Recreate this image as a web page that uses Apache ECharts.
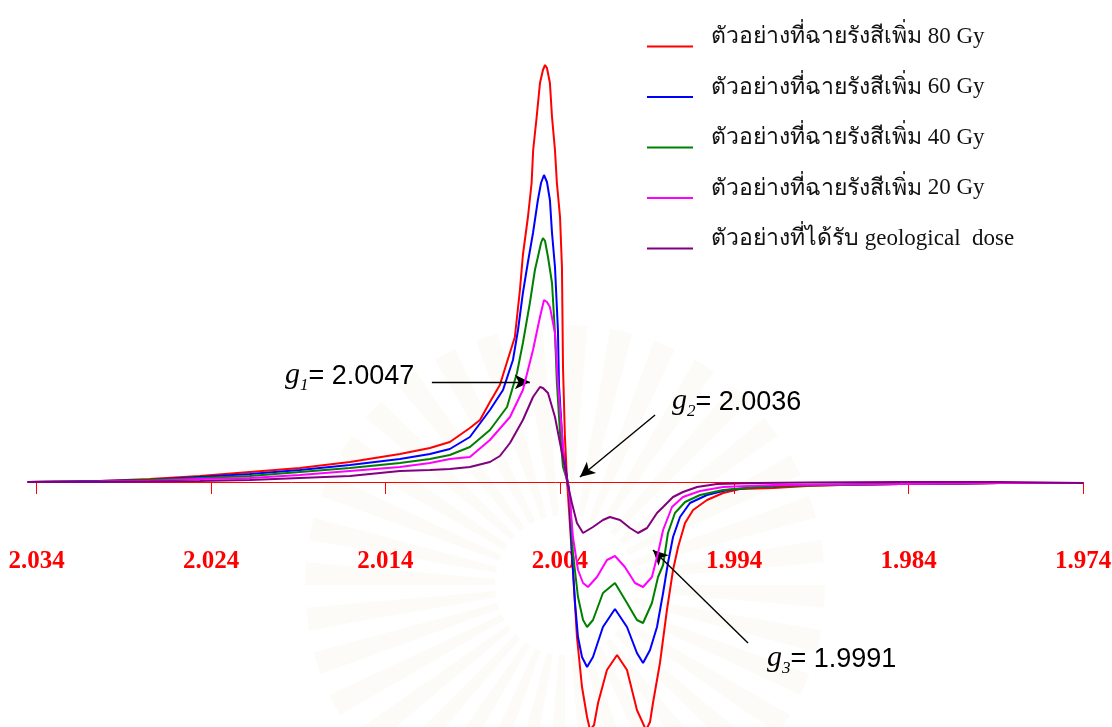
<!DOCTYPE html>
<html>
<head>
<meta charset="utf-8">
<title>EPR spectra</title>
<script src="https://cdn.jsdelivr.net/npm/echarts@6/dist/echarts.min.js"></script>
<style>
  html, body { margin: 0; padding: 0; background: #fff; }
  #chart { width: 1112px; height: 727px; }
</style>
</head>
<body>
<div id="chart"></div>
<script>
// g-value tick labels along the field axis
const gTicks = [2.034, 2.024, 2.014, 2.004, 1.994, 1.984, 1.974];

// Legend text: Thai description + dose
const thaiLabels = [
  'ตัวอย่างที่ฉายรังสีเพิ่ม',
  'ตัวอย่างที่ฉายรังสีเพิ่ม',
  'ตัวอย่างที่ฉายรังสีเพิ่ม',
  'ตัวอย่างที่ฉายรังสีเพิ่ม',
  'ตัวอย่างที่ได้รับ'
];
const doseLabels = ['80 Gy', '60 Gy', '40 Gy', '20 Gy', 'geological  dose'];
const lineColors = ['#ff0000', '#0000ff', '#008000', '#ff00ff', '#800080'];

// First-derivative EPR signal, [g, intensity (a.u.)]
const spec80 = [
  [2.03452,0],[2.03039,0.25],[2.02752,0.75],[2.02465,1.5],[2.02178,2.5],[2.01891,3.5],
  [2.01604,5],[2.01317,7],[2.01145,8.5],[2.01031,10],[2.00916,13.5],[2.00858,15.5],
  [2.00801,20],[2.00744,24.25],[2.00703,30],[2.00658,36.25],[2.00629,48],[2.00612,56.75],
  [2.00583,66.25],[2.00562,74.75],[2.00553,83],[2.00533,91.25],[2.00514,99.75],
  [2.00497,103],[2.00485,104.25],[2.00474,103.5],[2.00457,99.75],[2.00445,91.25],
  [2.00428,83],[2.00417,74.75],[2.00399,66.25],[2.00388,53.75],[2.00382,28.75],
  [2.00371,11.25],[2.00359,0.5],[2.00348,0],[2.00325,-22],[2.00302,-38.75],
  [2.00273,-51.25],[2.00244,-58.75],[2.00227,-62],[2.00204,-60.75],[2.00181,-55.25],
  [2.00130,-47],[2.00072,-43.25],[2.00015,-47],[1.99958,-57],[1.99906,-62],
  [1.99883,-60],[1.99866,-55.25],[1.99826,-45.25],[1.99786,-32],[1.99751,-22],
  [1.99722,-16.25],[1.99682,-10.25],[1.99636,-7],[1.99556,-4.5],[1.99464,-2.75],
  [1.99367,-1.75],[1.99177,-1.5],[1.98982,-1],[1.98793,-0.75],[1.98449,-0.5],
  [1.98162,-0.5],[1.97875,-0.25],[1.97399,-0.25]
];
const spec60 = [
  [2.03452,0],[2.03039,0.25],[2.02752,0.5],[2.02465,1.25],[2.02178,2],[2.01891,3],
  [2.01604,4.25],[2.01317,5.75],[2.01145,7],[2.01031,8.25],[2.00916,11.25],[2.00801,18],
  [2.00726,23],[2.00669,30.5],[2.00640,38],[2.00612,47.25],[2.00583,55],[2.00554,62.25],
  [2.00526,70.5],[2.00508,74.75],[2.00491,76.75],[2.00474,75],[2.00457,70.5],
  [2.00445,62.25],[2.00428,53.75],[2.00411,38],[2.00405,24.25],[2.00382,8],[2.00359,1],
  [2.00348,-1.5],[2.00331,-17.75],[2.00313,-30.25],[2.00296,-38.75],[2.00273,-43.75],
  [2.00244,-46.25],[2.00210,-43.75],[2.00153,-36.25],[2.00084,-31.75],[2.00015,-36.25],
  [1.99958,-42.75],[1.99923,-45.25],[1.99883,-42],[1.99843,-36.25],[1.99808,-27.75],
  [1.99780,-20.25],[1.99751,-13.75],[1.99711,-8.75],[1.99654,-5.25],[1.99556,-3.25],
  [1.99441,-2],[1.99269,-1.25],[1.98982,-0.75],[1.98449,-0.5],[1.97875,-0.25],[1.97399,-0.25]
];
const spec40 = [
  [2.03452,0],[2.03039,0.1],[2.02752,0.5],[2.02465,1],[2.02178,1.5],[2.01891,2.5],
  [2.01604,3.5],[2.01317,4.75],[2.01145,5.75],[2.01031,6.75],[2.00916,8.75],[2.00801,13],
  [2.00703,18.75],[2.00646,27.25],[2.00612,34.75],[2.00572,44.75],[2.00543,53],
  [2.00526,56.25],[2.00508,59.75],[2.00497,61],[2.00485,60.25],[2.00468,56.25],
  [2.00445,49.75],[2.00428,37.25],[2.00417,24.75],[2.00399,12.25],[2.00382,3.75],
  [2.00359,0.5],[2.00342,-4.5],[2.00325,-17.75],[2.00296,-28.75],[2.00267,-34.5],
  [2.00244,-36.25],[2.00210,-34.5],[2.00153,-27.75],[2.00084,-25.25],[2.00015,-30.25],
  [1.99958,-34.5],[1.99923,-35.25],[1.99872,-30.25],[1.99837,-23.75],[1.99808,-20.75],
  [1.99780,-12.75],[1.99740,-7.75],[1.99682,-5],[1.99596,-3.25],[1.99464,-2],
  [1.99177,-1],[1.98793,-0.75],[1.98449,-0.5],[1.97875,-0.25],[1.97399,-0.25]
];
const spec20 = [
  [2.03452,0],[2.03039,0.1],[2.02752,0.25],[2.02465,0.75],[2.02178,1],[2.01891,1.75],
  [2.01604,2.75],[2.01317,3.75],[2.01145,4.75],[2.01031,5.75],[2.00916,6.25],[2.00801,10.5],
  [2.00686,16.25],[2.00612,23],[2.00554,33],[2.00514,41.25],[2.00491,45.5],[2.00474,45],
  [2.00457,43.75],[2.00428,37.25],[2.00411,24.75],[2.00388,12.25],[2.00371,3],
  [2.00354,-0.75],[2.00342,-4.5],[2.00325,-13.75],[2.00296,-22],[2.00267,-25.25],
  [2.00239,-26.25],[2.00187,-23.75],[2.00130,-19.5],[2.00084,-18.5],[2.00027,-21.25],
  [1.99969,-25.25],[1.99923,-26.25],[1.99872,-23.75],[1.99837,-17.75],[1.99808,-12],
  [1.99757,-6.25],[1.99694,-3.75],[1.99596,-2.25],[1.99464,-1.25],[1.99177,-0.75],
  [1.98449,-0.5],[1.97875,-0.25],[1.97399,-0.25]
];
const specGeo = [
  [2.03452,0],[2.03039,0],[2.02752,0.1],[2.02465,0.25],[2.02178,0.5],[2.01891,1],
  [2.01604,1.5],[2.01317,2.75],[2.01145,3],[2.01031,3.25],[2.00916,3.75],[2.00801,5],
  [2.00744,6.5],[2.00686,9.75],[2.00612,15.5],[2.00554,21.25],[2.00514,23.75],
  [2.00497,23.5],[2.00468,22.25],[2.00428,16.25],[2.00399,9.75],[2.00371,3.75],
  [2.00354,-0.75],[2.00331,-5.25],[2.00302,-10.25],[2.00267,-12.75],[2.00210,-11.25],
  [2.00153,-9.5],[2.00113,-8.75],[2.00055,-9.5],[1.99998,-11.5],[1.99952,-12.75],
  [1.99900,-11.5],[1.99843,-7.75],[1.99808,-6.25],[1.99751,-3.75],[1.99694,-2.5],
  [1.99613,-1.25],[1.99499,-0.5],[1.99269,-0.25],[1.98982,-0.1],[1.98449,0],
  [1.97875,0],[1.97399,-0.25]
];
const spectra = [spec80, spec60, spec40, spec20, specGeo];

const seriesNames = thaiLabels.map((t, i) => t + ' ' + doseLabels[i]);

const chart = echarts.init(document.getElementById('chart'), null, { renderer: 'canvas' });

const thaiFont = '"Noto Sans", sans-serif';
const serif = '"Liberation Serif", "Times New Roman", serif';
const sans = '"Liberation Sans", Arial, sans-serif';

const arrowStyle = { color: '#000', width: 1.4, type: 'solid' };

const series = spectra.map((data, i) => ({
  name: seriesNames[i],
  type: 'line',
  data: data,
  showSymbol: false,
  symbol: 'none',
  lineStyle: { color: lineColors[i], width: 2 },
  itemStyle: { color: lineColors[i] },
  z: 2 + i,
  animation: false
}));

// Arrows marking g1, g2, g3 (in g / intensity coordinates)
series[4].markLine = {
  silent: true,
  animation: false,
  symbol: ['none', 'arrow'],
  symbolSize: [11, 15],
  label: { show: false },
  lineStyle: arrowStyle,
  data: [
    [{ coord: [2.01134, 25] }, { coord: [2.00572, 25] }],
    [{ coord: [1.99854, 16.75] }, { coord: [2.00285, 1.25] }],
    [{ coord: [1.99321, -40.25] }, { coord: [1.99866, -17] }]
  ]
};

const gLabelRich = {
  g: { fontFamily: serif, fontStyle: 'italic', fontSize: 30, color: '#111', lineHeight: 34, verticalAlign: 'bottom' },
  s: { fontFamily: serif, fontStyle: 'italic', fontSize: 17, color: '#111', lineHeight: 34, verticalAlign: 'bottom', padding: [0, 0, -4, 0] },
  n: { fontFamily: sans, fontSize: 27, color: '#111', lineHeight: 34, verticalAlign: 'bottom' }
};

// Faint sunburst watermark behind the plot
const rays = [];
const rayCount = 36;
for (let k = 0; k < rayCount; k++) {
  const a0 = (k / rayCount) * 360;
  rays.push({
    type: 'sector',
    silent: true,
    z: -10,
    shape: {
      cx: 565, cy: 585, r0: 70, r: 260,
      startAngle: a0 * Math.PI / 180,
      endAngle: (a0 + 5) * Math.PI / 180
    },
    style: { fill: 'rgba(214, 204, 170, 0.08)', shadowBlur: 6, shadowColor: 'rgba(214, 204, 170, 0.10)' }
  });
}

chart.setOption({
  backgroundColor: '#ffffff',
  animation: false,
  grid: { left: 28, right: 29, top: 2, bottom: 1, containLabel: false, outerBoundsMode: 'none' },
  xAxis: {
    type: 'value',
    inverse: true,
    min: 1.974,
    max: 2.0345,
    splitLine: { show: false },
    axisLine: { show: true, onZero: true, lineStyle: { color: '#ff0000', width: 1 } },
    axisTick: {
      show: true, inside: false, length: 12,
      customValues: gTicks,
      lineStyle: { color: '#ff0000', width: 1 }
    },
    axisLabel: {
      show: true,
      customValues: gTicks,
      margin: -177,
      color: '#ff0000',
      fontFamily: serif,
      fontWeight: 'bold',
      fontSize: 25,
      formatter: v => v.toFixed(3)
    }
  },
  yAxis: {
    type: 'value',
    min: -61,
    max: 120,
    show: false,
    splitLine: { show: false }
  },
  legend: {
    orient: 'vertical',
    left: 647,
    top: 25,
    padding: 0,
    itemGap: 7.5,
    itemWidth: 46,
    itemHeight: 2,
    icon: 'rect',
    selectedMode: false,
    data: seriesNames,
    formatter: name => {
      const i = seriesNames.indexOf(name);
      return '{th|' + thaiLabels[i] + '}{en| ' + doseLabels[i] + '}';
    },
    textStyle: {
      rich: {
        th: { fontFamily: thaiFont, fontSize: 23, color: '#111', lineHeight: 30, padding: [0, 0, 20, 13] },
        en: { fontFamily: serif, fontSize: 23, color: '#111', lineHeight: 30, padding: [0, 0, 20, 0] }
      }
    }
  },
  graphic: rays.concat([
    { type: 'text', left: 285, top: 360, silent: true,
      style: { text: '{g|g}{s|1}{n|= 2.0047}', rich: gLabelRich } },
    { type: 'text', left: 672, top: 386, silent: true,
      style: { text: '{g|g}{s|2}{n|= 2.0036}', rich: gLabelRich } },
    { type: 'text', left: 767, top: 643, silent: true,
      style: { text: '{g|g}{s|3}{n|= 1.9991}', rich: gLabelRich } }
  ]),
  series: series
});
</script>
</body>
</html>
